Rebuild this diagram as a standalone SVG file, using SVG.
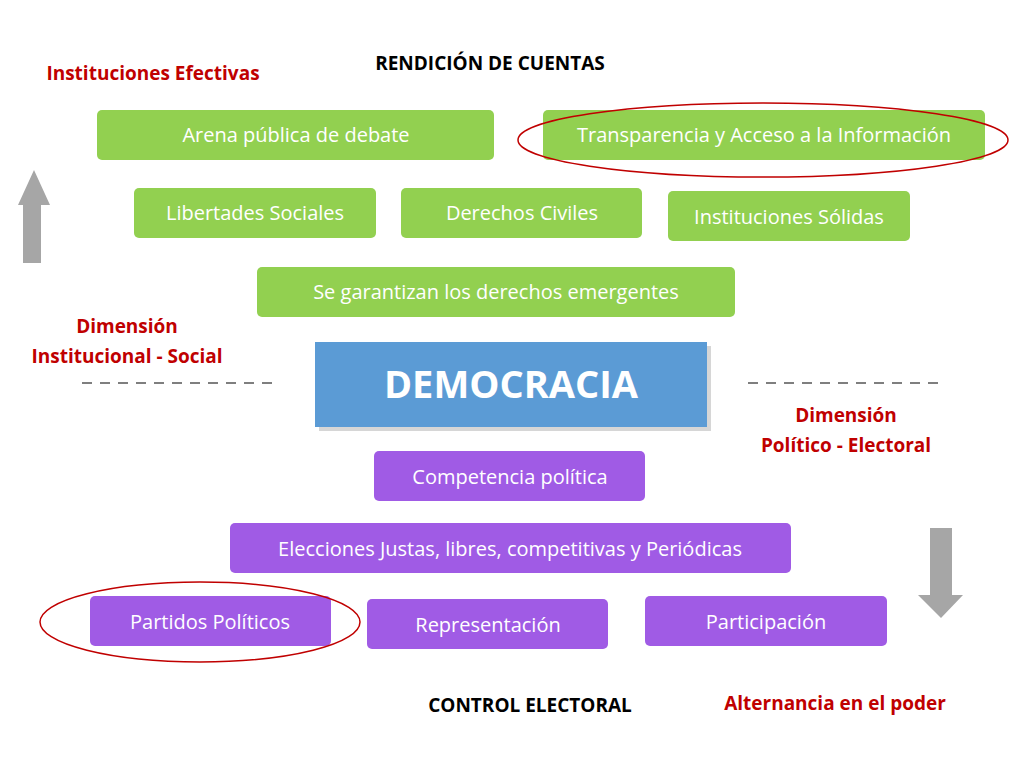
<svg xmlns="http://www.w3.org/2000/svg" width="1024" height="768" viewBox="0 0 1024 768">
<style>
text{font-family:"Open Sans","Liberation Sans",sans-serif}
.g{fill:#92D050}.p{fill:#A05BE5}
.bt{fill:#fff;font-size:20px;text-anchor:middle}
.red{fill:#C00000;font-size:19px;font-weight:bold;text-anchor:middle}
.blk{fill:#000;font-size:19px;font-weight:bold;text-anchor:middle}
.dash{stroke:#7f7f7f;stroke-width:2;stroke-dasharray:10,8}
.ell{fill:none;stroke:#C00000;stroke-width:1.5}
.arr{fill:#A6A6A6}
</style>
<rect width="1024" height="768" fill="#fff"/>
<text class="red" x="153" y="80">Instituciones Efectivas</text>
<text class="blk" x="490" y="70">RENDICIÓN DE CUENTAS</text>
<g id="n1"><rect class="g" x="97" y="110" width="397" height="50" rx="5"/><text class="bt" x="296" y="142">Arena pública de debate</text></g>
<g id="n2"><rect class="g" x="543" y="110" width="442" height="50" rx="5"/><text class="bt" x="764" y="142">Transparencia y Acceso a la Información</text></g>
<g id="n3"><rect class="g" x="134" y="188" width="242" height="50" rx="5"/><text class="bt" x="255" y="220">Libertades Sociales</text></g>
<g id="n4"><rect class="g" x="401" y="188" width="241" height="50" rx="5"/><text class="bt" x="522" y="220">Derechos Civiles</text></g>
<g id="n5"><rect class="g" x="668" y="191" width="242" height="50" rx="5"/><text class="bt" x="789" y="224">Instituciones Sólidas</text></g>
<g id="n6"><rect class="g" x="257" y="267" width="478" height="50" rx="5"/><text class="bt" x="496" y="299">Se garantizan los derechos emergentes</text></g>
<ellipse class="ell" cx="763" cy="140" rx="245" ry="37"/>
<polygon class="arr" points="34,170 50,205 41,205 41,263 23,263 23,205 18,205"/>
<text class="red" x="127" y="333">Dimensión</text>
<text class="red" x="127" y="363">Institucional - Social</text>
<line class="dash" x1="82" y1="383" x2="272" y2="383"/>
<line class="dash" x1="748" y1="383" x2="940" y2="383"/>
<g id="dem"><rect x="319" y="346" width="392" height="85" fill="#bbb" opacity="0.6"/><rect x="315" y="342" width="392" height="85" fill="#5B9BD5"/><text x="511" y="398" fill="#fff" font-size="38" font-weight="bold" text-anchor="middle">DEMOCRACIA</text></g>
<text class="red" x="846" y="422">Dimensión</text>
<text class="red" x="846" y="452">Político - Electoral</text>
<g id="m1"><rect class="p" x="374" y="451" width="271" height="50" rx="5"/><text class="bt" x="510" y="484">Competencia política</text></g>
<g id="m2"><rect class="p" x="230" y="523" width="561" height="50" rx="5"/><text class="bt" x="510" y="556">Elecciones Justas, libres, competitivas y Periódicas</text></g>
<g id="m3"><rect class="p" x="90" y="596" width="241" height="50" rx="5"/><text class="bt" x="210" y="629">Partidos Políticos</text></g>
<g id="m4"><rect class="p" x="367" y="599" width="241" height="50" rx="5"/><text class="bt" x="488" y="632">Representación</text></g>
<g id="m5"><rect class="p" x="645" y="596" width="242" height="50" rx="5"/><text class="bt" x="766" y="629">Participación</text></g>
<ellipse class="ell" cx="200" cy="622" rx="160" ry="40"/>
<polygon class="arr" points="930,528 952,528 952,595 963,595 941,618 918,595 930,595"/>
<text class="blk" x="530" y="712">CONTROL ELECTORAL</text>
<text class="red" x="835" y="710">Alternancia en el poder</text>
</svg>
